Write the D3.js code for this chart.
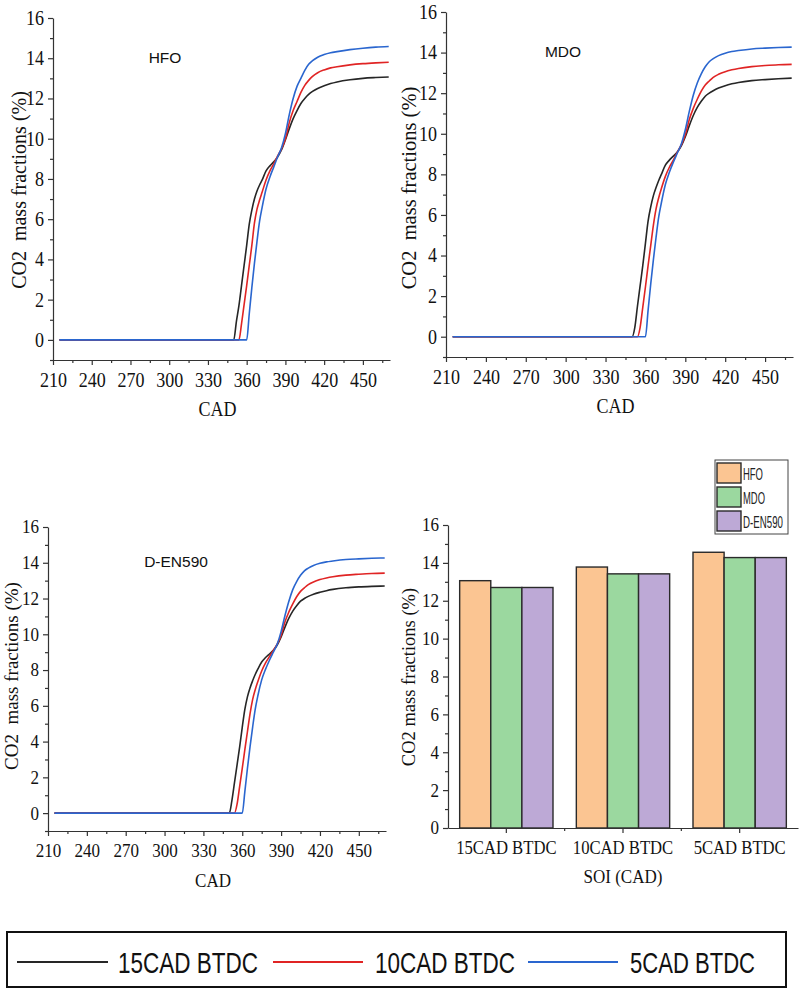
<!DOCTYPE html>
<html><head><meta charset="utf-8">
<script src="https://cdn.jsdelivr.net/npm/d3@7"></script>
<style>
html,body{margin:0;padding:0;background:#fff;}
svg{display:block;}
</style></head>
<body>
<script>
// ---------- DATA ----------
const cad = [215,350,352,354,356,358,360,362,364,366,368,370,372,375,378,381,384,387,390,393,396,399,402,405,408,411,415,420,425,430,440,450,460,470];

const hfo15 = [0,0,0.9,1.7,2.7,3.7,4.7,5.75,6.45,7.0,7.4,7.7,7.95,8.4,8.65,8.85,9.1,9.45,9.95,10.5,11.0,11.4,11.75,12.0,12.2,12.35,12.5,12.63,12.74,12.82,12.93,13.0,13.04,13.07];
const hfo10 = [0,0,0,0,0.8,1.75,2.7,3.7,4.7,5.8,6.5,6.95,7.35,7.95,8.4,8.75,9.15,9.5,10.0,10.8,11.4,11.85,12.3,12.65,12.9,13.1,13.28,13.42,13.52,13.58,13.67,13.73,13.77,13.8];
const hfo5  = [0,0,0,0,0,0,0,1.3,2.6,3.8,4.9,5.9,6.6,7.5,8.1,8.6,9.1,9.55,10.25,11.2,12.0,12.6,13.0,13.4,13.7,13.88,14.05,14.18,14.27,14.33,14.43,14.5,14.55,14.58];

const mdo15 = [0,0,0.45,1.5,2.5,3.5,4.6,5.7,6.4,6.95,7.35,7.7,8.0,8.45,8.7,8.9,9.1,9.4,9.85,10.4,10.9,11.3,11.6,11.85,12.0,12.12,12.25,12.37,12.46,12.53,12.62,12.67,12.71,12.74];
const mdo10 = [0,0,0,0,0.45,1.45,2.45,3.5,4.5,5.5,6.3,6.85,7.3,7.9,8.35,8.7,9.1,9.45,9.95,10.7,11.25,11.7,12.1,12.4,12.6,12.78,12.93,13.06,13.15,13.22,13.31,13.36,13.4,13.42];
const mdo5  = [0,0,0,0,0,0,0,1.3,2.6,3.8,4.9,5.9,6.6,7.5,8.1,8.6,9.05,9.5,10.2,11.1,11.9,12.5,12.95,13.3,13.55,13.7,13.85,13.97,14.05,14.1,14.18,14.22,14.25,14.27];

const den15 = [0,0,0.7,1.7,2.7,3.7,4.8,5.8,6.5,7.0,7.4,7.75,8.05,8.45,8.7,8.9,9.1,9.4,9.85,10.4,10.9,11.3,11.6,11.85,12.0,12.12,12.24,12.35,12.44,12.51,12.6,12.65,12.68,12.7];
const den10 = [0,0,0,0,0.5,1.5,2.5,3.55,4.55,5.55,6.35,6.9,7.35,7.95,8.4,8.75,9.1,9.45,9.95,10.7,11.25,11.7,12.1,12.4,12.6,12.78,12.93,13.06,13.15,13.22,13.31,13.36,13.4,13.42];
const den5  = [0,0,0,0,0,0,0,1.2,2.5,3.7,4.8,5.8,6.55,7.45,8.05,8.55,9.0,9.45,10.15,11.05,11.85,12.5,12.95,13.3,13.55,13.7,13.85,13.97,14.05,14.1,14.18,14.22,14.25,14.27];

const seriesNames = ["15CAD BTDC","10CAD BTDC","5CAD BTDC"];
const seriesColors = ["#262626","#e02424","#2a66cf"];

const xTicks = [210,240,270,300,330,360,390,420,450];
const xMinorTicks = [225,255,285,315,345,375,405,435,465];
const yTicks = [0,2,4,6,8,10,12,14,16];
const yMinorTicks = [-1,1,3,5,7,9,11,13,15];

const soiLabels = ["15CAD BTDC","10CAD BTDC","5CAD BTDC"];
const fuelNames = ["HFO","MDO","D-EN590"];
const hfoBars = [13.06,13.78,14.56];
const mdoBars = [12.70,13.42,14.28];
const denBars = [12.70,13.42,14.28];
const fuelColors = ["#fbc592","#9bd89f","#bda9d6"];

// ---------- DRAW ----------
const W = 800, H = 989;
const svg = d3.select("body").append("svg").attr("width", W).attr("height", H);
const AXIS = "#333";
const SERIF = "'Liberation Serif','Times New Roman',serif";
const SANS = "'Liberation Sans',Arial,sans-serif";

function squeeze(sel, f){
  sel.each(function(){
    const L = this.getComputedTextLength();
    d3.select(this).attr("textLength", L*f).attr("lengthAdjust","spacingAndGlyphs");
  });
}

function styleAxis(g, fs, sq){
  g.select(".domain").attr("stroke", AXIS).attr("stroke-width", 1.2);
  g.selectAll(".tick line").attr("stroke", AXIS).attr("stroke-width", 1.2);
  g.selectAll(".tick text").attr("fill","#111").style("font-family", SERIF).style("font-size", fs+"px");
  squeeze(g.selectAll(".tick text"), sq);
}

function linePanel(p){
  const x = d3.scaleLinear().domain([210,471]).range([p.x0,p.x1]);
  const y = d3.scaleLinear().domain([-1,16]).range([p.y1,p.y0]);
  const g = svg.append("g");
  const gxm = g.append("g").attr("transform",`translate(0,${p.y1})`)
    .call(d3.axisBottom(x).tickValues(xMinorTicks).tickSize(3).tickFormat(""));
  gxm.select(".domain").remove();
  gxm.selectAll("line").attr("stroke",AXIS).attr("stroke-width",1.2);
  const gym = g.append("g").attr("transform",`translate(${p.x0},0)`)
    .call(d3.axisLeft(y).tickValues(yMinorTicks).tickSize(3).tickFormat(""));
  gym.select(".domain").remove();
  gym.selectAll("line").attr("stroke",AXIS).attr("stroke-width",1.2);
  const gx = g.append("g").attr("transform",`translate(0,${p.y1})`)
    .call(d3.axisBottom(x).tickValues(xTicks).tickSize(5).tickSizeOuter(0).tickPadding(8));
  styleAxis(gx, p.fs, p.sq);
  const gy = g.append("g").attr("transform",`translate(${p.x0},0)`)
    .call(d3.axisLeft(y).tickValues(yTicks).tickSize(5).tickSizeOuter(0).tickPadding(4));
  styleAxis(gy, p.fs, p.sq);

  const line = d3.line().x((d,i)=>x(cad[i])).y(d=>y(d)).curve(d3.curveMonotoneX);
  p.series.forEach((s,k)=>{
    g.append("path").attr("d", line(s)).attr("fill","none")
      .attr("stroke", seriesColors[k]).attr("stroke-width",1.6);
  });
  g.append("text").attr("x",p.tx).attr("y",p.ty).attr("text-anchor","middle")
    .style("font-family",SANS).style("font-size","15.5px").attr("fill","#111").text(p.title);
  const xl = g.append("text").attr("x",(p.x0+p.x1)/2 - 4).attr("y",p.y1+56).attr("text-anchor","middle")
    .style("font-family",SERIF).style("font-size",p.fs+"px").attr("fill","#111").text("CAD");
  squeeze(xl, p.sq);
  g.append("text").attr("transform",`translate(${p.lx},${p.ly}) rotate(-90)`)
    .attr("text-anchor","middle").attr("dy","0.35em").style("white-space","pre")
    .style("font-family",SERIF).style("font-size",p.lfs+"px").attr("fill","#111")
    .text("CO2  mass fractions (%)");
}

linePanel({x0:53,x1:390,y0:18,y1:360,fs:20,sq:0.9,lfs:20,lx:19,ly:190,
  title:"HFO",tx:165,ty:63,series:[hfo15,hfo10,hfo5]});
linePanel({x0:446,x1:793,y0:12,y1:357,fs:20,sq:0.9,lfs:20.5,lx:409,ly:188,
  title:"MDO",tx:563,ty:57,series:[mdo15,mdo10,mdo5]});
linePanel({x0:48,x1:386,y0:527,y1:831,fs:18.5,sq:0.92,lfs:19,lx:11,ly:676,
  title:"D-EN590",tx:176,ty:567,series:[den15,den10,den5]});

// ---------- BAR PANEL ----------
(function(){
  const x0=448,x1=798,y0=525,y1=828;
  const x = d3.scaleBand().domain(soiLabels).range([x0,x1]).paddingInner(0.2).paddingOuter(0.1);
  const xs = d3.scaleBand().domain(fuelNames).range([0,x.bandwidth()]);
  const y = d3.scaleLinear().domain([0,16]).range([y1,y0]);
  const g = svg.append("g");
  const barSets = [hfoBars, mdoBars, denBars];
  const cells = [];
  soiLabels.forEach((c,i)=>fuelNames.forEach((f,j)=>cells.push({c,f,j,v:barSets[j][i]})));
  g.selectAll("rect.bar").data(cells).join("rect").attr("class","bar")
    .attr("x",d=>x(d.c)+xs(d.f)).attr("width",xs.bandwidth())
    .attr("y",d=>y(d.v)).attr("height",d=>y(0)-y(d.v))
    .attr("fill",d=>fuelColors[d.j]).attr("stroke","#2a2a2a").attr("stroke-width",1.4);

  const gym = g.append("g").attr("transform",`translate(${x0},0)`)
    .call(d3.axisLeft(y).tickValues(d3.range(1,16,2)).tickSize(3).tickFormat(""));
  gym.select(".domain").remove();
  gym.selectAll("line").attr("stroke",AXIS).attr("stroke-width",1.2);
  const gy = g.append("g").attr("transform",`translate(${x0},0)`)
    .call(d3.axisLeft(y).tickValues(yTicks).tickSize(5).tickSizeOuter(0).tickPadding(4));
  styleAxis(gy, 18.5, 0.92);
  const gx = g.append("g").attr("transform",`translate(0,${y1})`)
    .call(d3.axisBottom(x).tickSize(5).tickSizeOuter(0).tickPadding(8));
  styleAxis(gx, 18.5, 0.9);
  g.selectAll("line.minor").data(soiLabels.slice(1)).join("line")
    .attr("x1",d=>x(d)-x.step()*0.1).attr("x2",d=>x(d)-x.step()*0.1)
    .attr("y1",y1).attr("y2",y1+3).attr("stroke",AXIS).attr("stroke-width",1.2);

  const xl = g.append("text").attr("x",623).attr("y",883).attr("text-anchor","middle")
    .style("font-family",SERIF).style("font-size","18.5px").attr("fill","#111").text("SOI (CAD)");
  squeeze(xl,0.92);
  g.append("text").attr("transform",`translate(409,677) rotate(-90)`)
    .attr("text-anchor","middle").attr("dy","0.35em")
    .style("font-family",SERIF).style("font-size","18.5px").attr("fill","#111")
    .text("CO2 mass fractions (%)");

  const lg = g.append("g");
  lg.append("rect").attr("x",715).attr("y",460).attr("width",73).attr("height",74)
    .attr("fill","#fff").attr("stroke","#444").attr("stroke-width",1);
  const lw = [20,22,40];
  fuelNames.forEach((f,j)=>{
    lg.append("rect").attr("x",717).attr("y",463+j*24).attr("width",24).attr("height",20)
      .attr("fill",fuelColors[j]).attr("stroke","#2a2a2a").attr("stroke-width",1.4);
    const t = lg.append("text").attr("x",0).attr("y",0)
      .style("font-family",SANS).style("font-size","17px").attr("fill","#222").text(f);
    const L = t.node().getComputedTextLength();
    t.attr("transform",`translate(743,${480+j*24}) scale(${lw[j]/L},1)`);
  });
})();

// ---------- BOTTOM LEGEND ----------
(function(){
  const g = svg.append("g");
  g.append("rect").attr("x",7).attr("y",932).attr("width",779).attr("height",55)
    .attr("fill","#fff").attr("stroke","#111").attr("stroke-width",2);
  const items = [
    {lx0:17,lx1:108,tx:118,tl:140},
    {lx0:273,lx1:363,tx:375,tl:140},
    {lx0:528,lx1:618,tx:630,tl:125}
  ];
  items.forEach((it,k)=>{
    g.append("line").attr("x1",it.lx0).attr("x2",it.lx1).attr("y1",962).attr("y2",962)
      .attr("stroke",seriesColors[k]).attr("stroke-width",2);
    g.append("text").attr("x",it.tx).attr("y",973)
      .style("font-family",SANS).style("font-size","29px").attr("fill","#111")
      .attr("textLength",it.tl).attr("lengthAdjust","spacingAndGlyphs").text(seriesNames[k]);
  });
})();
</script>
</body></html>
